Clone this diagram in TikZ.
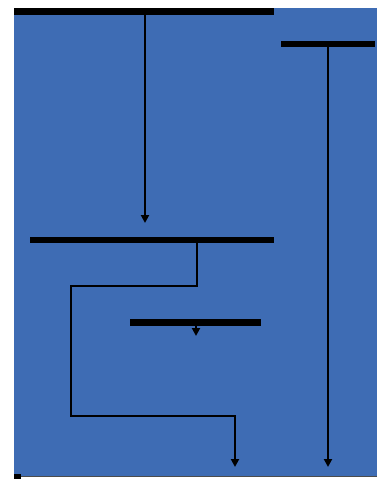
\documentclass[tikz,border=0pt]{standalone}
\usetikzlibrary{arrows.meta}
\definecolor{bg}{RGB}{62,108,180}
\begin{document}
\begin{tikzpicture}[x=1pt,y=-1pt,
  bar/.style={fill=black,inner sep=0pt,outer sep=0pt,minimum height=7pt,anchor=north west},
  conn/.style={line width=2.6pt,-{Triangle[width=8pt,length=8pt]}},
  link/.style={line width=2.6pt}]
\useasboundingbox (0,0) rectangle (377,479);
\fill[bg] (14,8) rectangle (377,476);
\draw[black!70, line width=1pt] (14,476.5) -- (377,476.5);
\fill[black] (14,474) rectangle (21,479);
% bars
\node[bar,minimum width=260pt] (top) at (14,8) {};
\node[bar,minimum width=94pt,minimum height=6.5pt] (right) at (281,40.5) {};
\node[bar,minimum width=244pt,minimum height=6.5pt] (mid) at (30,236.5) {};
\node[bar,minimum width=131pt] (small) at (130,319) {};
% coordinates
\coordinate (a1) at (145,223);
\coordinate (r1) at (328,467);
\coordinate (m0) at (197,0);
\coordinate (m1) at (197,286);
\coordinate (m2) at (71,286);
\coordinate (m3) at (71,416);
\coordinate (m4) at (235,416);
\coordinate (m5) at (235,467);
\coordinate (s1) at (196,336);
% connectors
\draw[conn] (top.south -| a1) -- (a1);
\draw[conn] (right.south -| r1) -- (r1);
\draw[conn,line join=miter] (mid.south -| m0) -- (m1) -- (m2) -- (m3) -- (m4) -- (m5);
\draw[conn] (small.south -| s1) -- (s1);
\end{tikzpicture}
\end{document}
